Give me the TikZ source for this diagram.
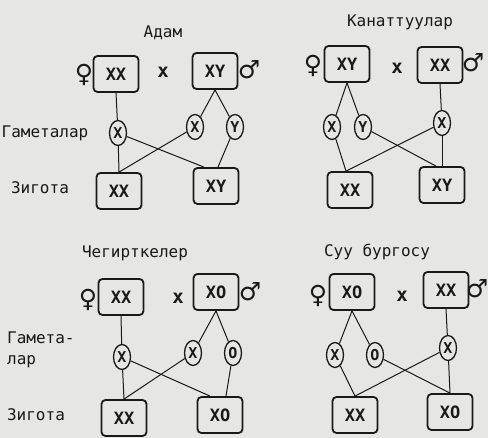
\documentclass[tikz,border=0pt]{standalone}
\usepackage{fontspec}
\setmainfont{DejaVu Sans Mono}
\newfontfamily\symfont{DejaVu Sans}
\usetikzlibrary{shapes.geometric}
\definecolor{ink}{RGB}{25,25,25}
\definecolor{paper}{RGB}{230,230,228}
\tikzset{
  chrbox/.style={draw=ink, line width=1.8pt, rounded corners=4pt, minimum width=45pt, minimum height=36pt, inner sep=0pt, font=\bfseries\fontsize{17}{17}\selectfont, text=ink},
  gam/.style={draw=ink, line width=1.3pt, ellipse, minimum width=17pt, minimum height=25pt, inner sep=0pt, font=\bfseries\fontsize{15}{15}\selectfont, text=ink},
  lbl/.style={font=\fontsize{16}{16}\selectfont, text=ink, inner sep=0pt},
  sexsym/.style={font=\symfont\bfseries\fontsize{25}{25}\selectfont, text=ink, inner sep=0pt},
  crs/.style={font=\bfseries\fontsize{19}{19}\selectfont, text=ink, inner sep=0pt},
  link/.style={draw=ink, line width=1pt}
}
\begin{document}
\begin{tikzpicture}[x=1pt,y=-1pt]
\fill[paper] (0,0) rectangle (488,438);
\useasboundingbox (0,0) rectangle (488,438);

% ---------- Panel 1: Адам ----------
\node[lbl] (t1) at (163,33) {Адам};
\node[sexsym] (f1s) at (84,75) {♀};
\node[chrbox] (f1) at (116,74) {XX};
\node[crs] (c1) at (163,72) {x};
\node[chrbox] (m1) at (215,71) {XY};
\node[sexsym] (m1s) at (249,70) {♂};
\node[lbl] (gl1) at (45,133) {Гаметалар};
\node[gam] (a1) at (118,133) {X};
\node[gam] (a2) at (195,127) {X};
\node[gam] (a3) at (235,127) {Y};
\node[lbl] (zl1) at (40,188) {Зигота};
\node[chrbox] (z11) at (119,191) {XX};
\node[chrbox] (z12) at (216,186) {XY};
\draw[link] (f1.south) -- (a1);
\draw[link] (m1.south) -- (a2);
\draw[link] (m1.south) -- (a3);
\draw[link] (a1) -- (z11.north);
\draw[link] (a1) -- ([xshift=-12pt]z12.north);
\draw[link] (a2) -- (z11.north);
\draw[link] (a3) -- ([xshift=2pt]z12.north);

% ---------- Panel 2: Канаттуулар ----------
\node[lbl] (t2) at (400,22) {Канаттуулар};
\node[sexsym] (f2s) at (313,66) {♀};
\node[chrbox] (f2) at (347,64) {XY};
\node[crs] (c2) at (397,68) {x};
\node[chrbox] (m2) at (440,65) {XX};
\node[sexsym] (m2s) at (473,63) {♂};
\node[gam] (b1) at (332,127) {X};
\node[gam] (b2) at (363,127) {Y};
\node[gam] (b3) at (442,123) {X};
\node[chrbox] (z21) at (350,190) {XX};
\node[chrbox] (z22) at (442,185) {XY};
\draw[link] (f2.south) -- (b1);
\draw[link] (f2.south) -- (b2);
\draw[link] (m2.south) -- (b3);
\draw[link] (b1) -- ([xshift=-4pt]z21.north);
\draw[link] (b3) -- ([xshift=-4pt]z21.north);
\draw[link] (b2) -- ([xshift=-6pt]z22.north);
\draw[link] (b3) -- (z22.north);

% ---------- Panel 3: Чегирткелер ----------
\node[lbl] (t3) at (135,253) {Чегирткелер};
\node[sexsym] (f3s) at (88,300) {♀};
\node[chrbox] (f3) at (121,297) {XX};
\node[crs] (c3) at (178,298) {x};
\node[chrbox] (m3) at (216,292) {XO};
\node[sexsym] (m3s) at (250,292) {♂};
\node[lbl, anchor=west] (gl3a) at (7,338) {Гамета-};
\node[lbl, anchor=west] (gl3b) at (7,362) {лар};
\node[gam] (d1) at (122,357) {X};
\node[gam] (d2) at (193,353) {X};
\node[gam] (d3) at (233,353) {O};
\node[lbl] (zl3) at (36,415) {Зигота};
\node[chrbox] (z31) at (124,418) {XX};
\node[chrbox] (z32) at (220,415) {XO};
\draw[link] (f3.south) -- (d1);
\draw[link] (m3.south) -- (d2);
\draw[link] (m3.south) -- (d3);
\draw[link] (d1) -- (z31.north);
\draw[link] (d1) -- ([xshift=-10pt]z32.north);
\draw[link] (d2) -- (z31.north);
\draw[link] (d3) -- ([xshift=6pt]z32.north);

% ---------- Panel 4: Суу бургосу ----------
\node[lbl] (t4) at (377,252) {Суу бургосу};
\node[sexsym] (f4s) at (318,296) {♀};
\node[chrbox] (f4) at (352,292) {XO};
\node[crs] (c4) at (402,296) {x};
\node[chrbox] (m4) at (446,290) {XX};
\node[sexsym] (m4s) at (477,289) {♂};
\node[gam] (e1) at (335,355) {X};
\node[gam] (e2) at (375,355) {O};
\node[gam] (e3) at (448,348) {X};
\node[chrbox] (z41) at (355,415) {XX};
\node[chrbox] (z42) at (450,412) {XO};
\draw[link] (f4.south) -- (e1);
\draw[link] (f4.south) -- (e2);
\draw[link] (m4.south) -- (e3);
\draw[link] (e1) -- (z41.north);
\draw[link] (e3) -- (z41.north);
\draw[link] (e2) -- (z42.north);
\draw[link] (e3) -- (z42.north);
\end{tikzpicture}
\end{document}
